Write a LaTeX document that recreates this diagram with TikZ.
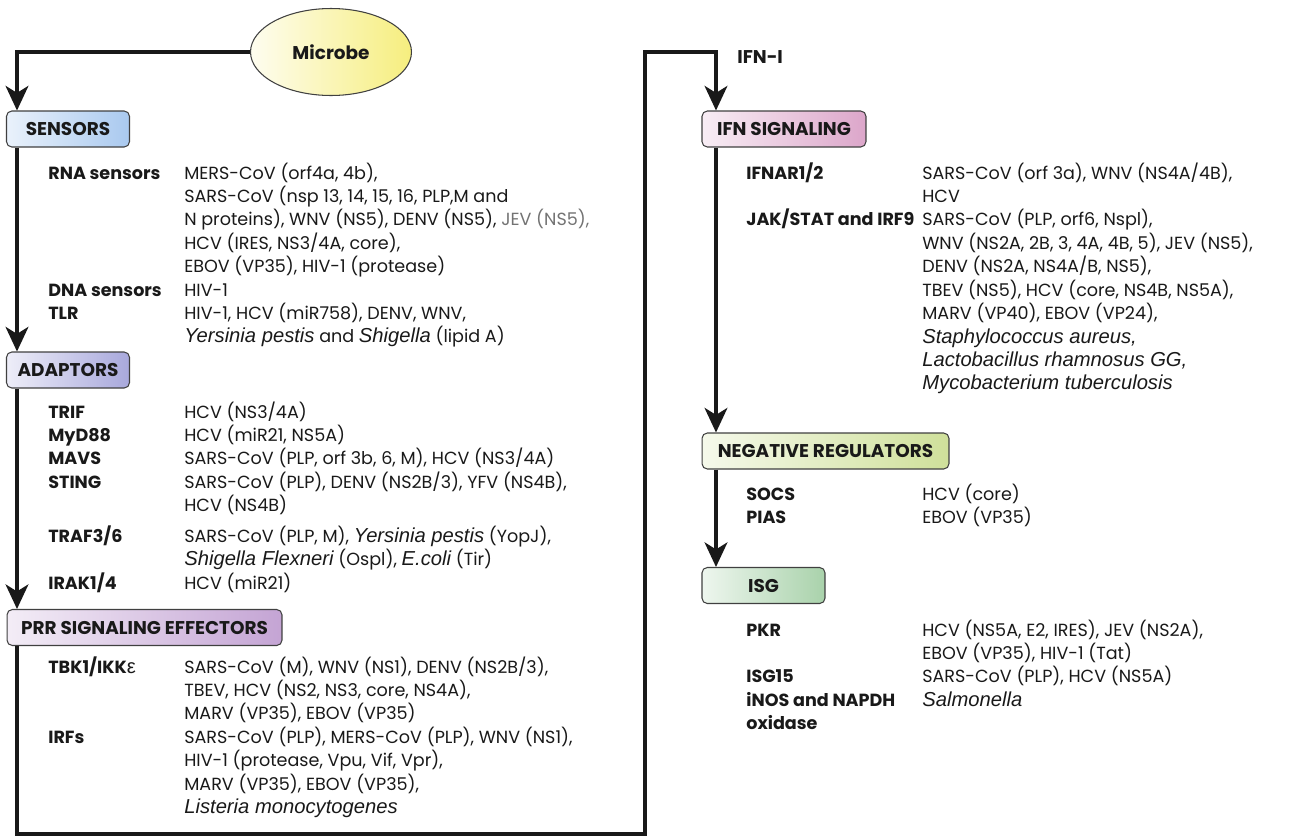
\documentclass[tikz,border=0pt]{standalone}
\usepackage{fontspec}
\setmainfont{Poppins}
\newfontfamily\arialfont[Scale=1.15]{Liberation Sans}
\usepackage{array}
\usetikzlibrary{arrows.meta, positioning, calc, shapes.geometric}

\newcommand{\spec}[1]{{\arialfont\itshape #1}}

\definecolor{senseC}{HTML}{A9C9EF}
\definecolor{adaptC}{HTML}{A8A8DC}
\definecolor{prrC}{HTML}{C4A4D4}
\definecolor{ifnC}{HTML}{DCA6CA}
\definecolor{negC}{HTML}{CFE09A}
\definecolor{isgC}{HTML}{A9D2AB}
\definecolor{microbeC}{HTML}{F6EE7E}

\begin{document}
\begin{tikzpicture}[
    x=0.02cm, y=-0.02cm,
    >={Stealth[length=14pt, width=13pt, inset=4pt]},
    font=\fontsize{10}{13.26}\selectfont,
    every node/.style={text=black!90},
    header/.style={draw=black!75, line width=0.6pt, rounded corners=3pt, minimum height=0.72cm,
        inner sep=0pt, font=\fontsize{10.5}{12}\selectfont\bfseries},
    entries/.style={anchor=base west, inner sep=0pt},
    flow/.style={->, line width=1.8pt, black!90}
]
\useasboundingbox (0,0) rectangle (1301,839);

% =========================================================
% Left column
% =========================================================
\node[ellipse, draw=black!75, line width=0.6pt, left color=microbeC!12, right color=microbeC,
    minimum width=3.22cm, minimum height=1.74cm, font=\fontsize{10.5}{12}\selectfont\bfseries] (microbe) at (331, 52) {Microbe};

\node[header, left color=senseC!25, right color=senseC, minimum width=2.46cm] (sensors) at (68, 129) {SENSORS};
\node[header, left color=adaptC!20, right color=adaptC, minimum width=2.46cm] (adaptors) at (68, 370) {ADAPTORS};
\node[header, left color=prrC!20, right color=prrC, minimum width=5.5cm] (prr) at (144.5, 627.5) {PRR SIGNALING EFFECTORS};

\coordinate (railL) at (17, 0);

\node[entries] (sensorsTxt) at (48, 179) {%
\begin{tabular}[t]{@{}>{\bfseries}w{l}{2.72cm}@{}l@{}}
RNA sensors & MERS-CoV (orf4a, 4b),\\
 & SARS-CoV (nsp 13, 14, 15, 16, PLP,M and\\
 & N proteins), WNV (NS5), DENV (NS5), {\color{black!55}JEV (NS5),}\\
 & HCV (IRES, NS3/4A, core),\\
 & EBOV (VP35), HIV-1 (protease)\\
DNA sensors & HIV-1\\
TLR & HIV-1, HCV (miR758), DENV, WNV,\\
 & \spec{Yersinia pestis} and \spec{Shigella} (lipid A)
\end{tabular}};

\node[entries] (adaptTxt) at (48, 418) {%
\begin{tabular}[t]{@{}>{\bfseries}w{l}{2.72cm}@{}l@{}}
TRIF & HCV (NS3/4A)\\
MyD88 & HCV (miR21, NS5A)\\
MAVS & SARS-CoV (PLP, orf 3b, 6, M), HCV (NS3/4A)\\
STING & SARS-CoV (PLP), DENV (NS2B/3), YFV (NS4B),\\
 & HCV (NS4B)\\[4pt]
TRAF3/6 & SARS-CoV (PLP, M), \spec{Yersinia pestis} (YopJ),\\
 & \spec{Shigella Flexneri} (Ospl), \spec{E.coli} (Tir)\\
IRAK1/4 & HCV (miR21)
\end{tabular}};

\node[entries] (prrTxt) at (48, 673) {%
\begin{tabular}[t]{@{}>{\bfseries}w{l}{2.72cm}@{}l@{}}
TBK1/IKK{\arialfont\mdseries ε} & SARS-CoV (M), WNV (NS1), DENV (NS2B/3),\\
 & TBEV, HCV (NS2, NS3, core, NS4A),\\
 & MARV (VP35), EBOV (VP35)\\
IRFs & SARS-CoV (PLP), MERS-CoV (PLP), WNV (NS1),\\
 & HIV-1 (protease, Vpu, Vif, Vpr),\\
 & MARV (VP35), EBOV (VP35),\\
 & \spec{Listeria monocytogenes}
\end{tabular}};

\draw[flow] (microbe.west) -| (sensors.north -| railL);
\draw[flow] (sensors.south -| railL) -- (adaptors.north -| railL);
\draw[flow] (adaptors.south -| railL) -- (prr.north -| railL);

% =========================================================
% Return loop to the right column
% =========================================================
\coordinate (railR) at (716, 0);
\coordinate (loopBL) at (17, 834);
\coordinate (loopBR) at (645, 834);
\coordinate (loopTR) at (645, 52);

\node[header, left color=ifnC!20, right color=ifnC, minimum width=3.28cm] (ifn) at (784, 129) {IFN SIGNALING};
\node[header, left color=negC!20, right color=negC, minimum width=4.94cm] (neg) at (825.5, 451) {NEGATIVE REGULATORS};
\node[header, left color=isgC!20, right color=isgC, minimum width=2.46cm] (isg) at (763.5, 585.5) {ISG};

\draw[flow] (prr.south -| railL) -- (loopBL) -- (loopBR) -- (loopTR) -| (ifn.north -| railR);
\node[anchor=west, inner sep=0pt, font=\fontsize{10.5}{12}\selectfont\bfseries] (ifnLab) at (737, 57) {IFN-I};

\draw[flow] (ifn.south -| railR) -- (neg.north -| railR);
\draw[flow] (neg.south -| railR) -- (isg.north -| railR);

% =========================================================
% Right column
% =========================================================
\node[entries] (ifnTxt) at (746, 179) {%
\begin{tabular}[t]{@{}>{\bfseries}w{l}{3.52cm}@{}l@{}}
IFNAR1/2 & SARS-CoV (orf 3a), WNV (NS4A/4B),\\
 & HCV\\
JAK/STAT and IRF9 & SARS-CoV (PLP, orf6, Nspl),\\
 & WNV (NS2A, 2B, 3, 4A, 4B, 5), JEV (NS5),\\
 & DENV (NS2A, NS4A/B, NS5),\\
 & TBEV (NS5), HCV (core, NS4B, NS5A),\\
 & MARV (VP40), EBOV (VP24),\\
 & \spec{Staphylococcus aureus,}\\
 & \spec{Lactobacillus rhamnosus GG,}\\
 & \spec{Mycobacterium tuberculosis}
\end{tabular}};

\node[entries] (negTxt) at (746, 500) {%
\begin{tabular}[t]{@{}>{\bfseries}w{l}{3.52cm}@{}l@{}}
SOCS & HCV (core)\\
PIAS & EBOV (VP35)
\end{tabular}};

\node[entries] (isgTxt) at (746, 636) {%
\begin{tabular}[t]{@{}>{\bfseries}w{l}{3.52cm}@{}l@{}}
PKR & HCV (NS5A, E2, IRES), JEV (NS2A),\\
 & EBOV (VP35), HIV-1 (Tat)\\
ISG15 & SARS-CoV (PLP), HCV (NS5A)\\
iNOS and NAPDH & \spec{Salmonella}\\
oxidase &
\end{tabular}};

\end{tikzpicture}
\end{document}
